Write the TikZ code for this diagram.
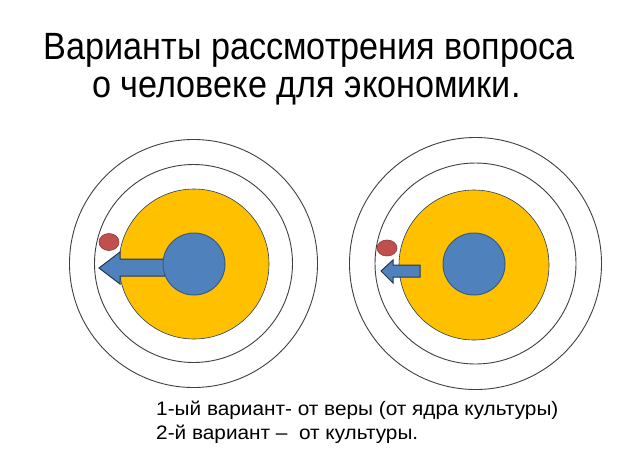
\documentclass[tikz,border=0pt]{standalone}
\usepackage{graphicx}
\usepackage{fontspec}
\setmainfont{Liberation Sans}
\definecolor{ringc}{HTML}{404040}
\definecolor{orangec}{HTML}{FFC000}
\definecolor{bluec}{HTML}{4F81BD}
\definecolor{blueline}{HTML}{385D8A}
\definecolor{redc}{HTML}{C0504D}
\definecolor{redline}{HTML}{8C3836}
\tikzset{
  ring/.style={draw=ringc, line width=0.9pt},
  culture/.style={fill=orangec, draw=blueline!70!black, line width=0.6pt},
  core/.style={fill=bluec, draw=blueline, line width=1pt},
  arrowshape/.style={fill=bluec, draw=blueline!60!black, line width=1pt, line join=miter},
  person/.style={fill=redc, draw=redline, line width=0.6pt},
  titletext/.style={font=\fontsize{38}{40}\selectfont, inner sep=0pt, anchor=base},
  captext/.style={font=\fontsize{19.5}{24}\selectfont, inner sep=0pt, anchor=base west}
}
\newcommand{\titlesq}[1]{\scalebox{0.9}[1]{#1}}
\newcommand{\capwide}[1]{\scalebox{1.066}[1]{#1}}
\begin{document}
\begin{tikzpicture}[x=1pt,y=-1pt]
\useasboundingbox[fill=white] (0,0) rectangle (620,464);
% title
\node[titletext] (t1) at (309,59) {\titlesq{Варианты рассмотрения вопроса}};
\node[titletext] (t2) at (306.5,97.5) {\titlesq{о человеке для экономики.}};
% left diagram
\draw[ring] (193.5,263.5) circle (124);
\draw[ring] (193.5,263.5) circle (99);
\fill[culture] (194,264) circle (75);
\filldraw[arrowshape] (99,268) -- (120,252) -- (120,259) -- (165,259) -- (165,276) -- (120,276) -- (120,284) -- cycle;
\filldraw[core] (194,264) circle (31);
\filldraw[person] (109,242) ellipse (10 and 8.5);
% right diagram
\draw[ring] (475.5,263.5) circle (126);
\draw[ring] (475.5,263.5) circle (100.5);
\fill[culture] (474,265) circle (75);
\filldraw[core] (474,264) circle (31);
\filldraw[arrowshape] (381,271) -- (393,260) -- (393,265) -- (420,265) -- (420,277) -- (393,277) -- (393,283) -- cycle;
\filldraw[person] (387,248) ellipse (10 and 8);
% caption
\node[captext] (c1) at (156,415) {\capwide{1-ый вариант- от веры (от ядра культуры)}};
\node[captext] (c2) at (156,439) {\capwide{2-й вариант –\ \ от культуры.}};
\end{tikzpicture}
\end{document}
